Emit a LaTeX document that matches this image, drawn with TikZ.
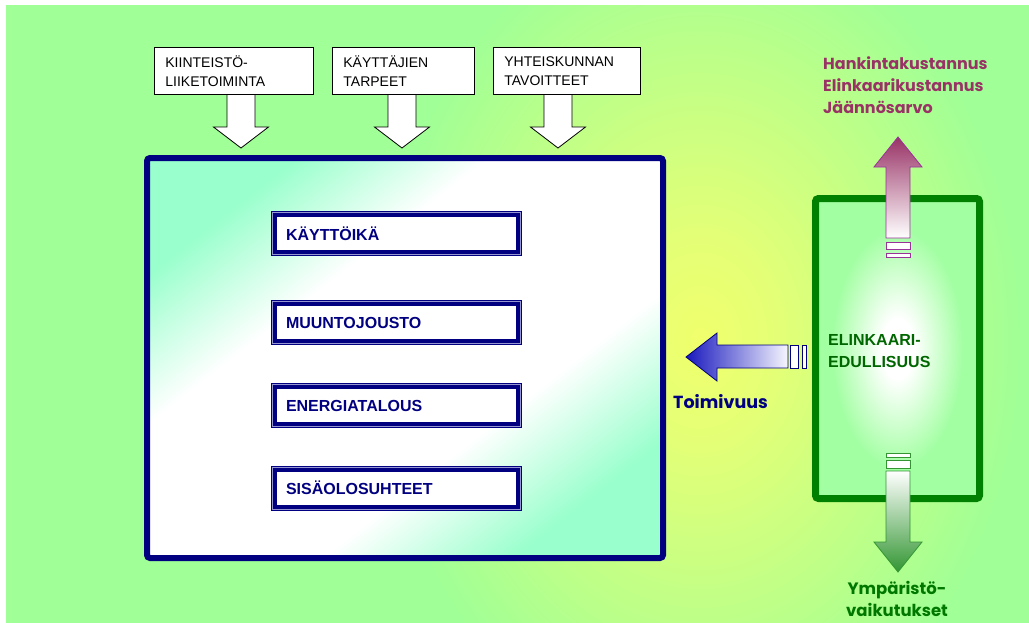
\documentclass[tikz,border=0pt]{standalone}
\usepackage{fontspec}
\setmainfont{Liberation Sans}
\newfontfamily\comic{Poppins}

% palette
\definecolor{bgG}{RGB}{160,255,150}
\definecolor{glowY}{RGB}{240,255,108}
\definecolor{glowY2}{RGB}{228,255,118}
\definecolor{mint}{RGB}{153,255,204}
\definecolor{navyB}{RGB}{0,0,128}
\definecolor{lav}{RGB}{150,150,210}
\definecolor{frameG}{RGB}{0,128,0}
\definecolor{boxG}{RGB}{162,255,162}
\definecolor{elinG}{RGB}{0,102,0}
\definecolor{mauve}{RGB}{153,51,102}
\definecolor{mauveLine}{RGB}{153,51,153}
\definecolor{arrowG}{RGB}{51,150,51}
\definecolor{ympG}{RGB}{0,120,0}
\definecolor{blueTip}{RGB}{25,25,190}
\definecolor{blueWhite}{RGB}{246,246,255}

% shadings
\pgfdeclareradialshading{bgglow}{\pgfpoint{0bp}{0bp}}{color(0bp)=(glowY); color(6bp)=(glowY2); color(25bp)=(bgG); color(50bp)=(bgG)}
\pgfdeclareradialshading{boxglow}{\pgfpoint{0bp}{0bp}}{color(0bp)=(white); color(5bp)=(white); color(20bp)=(boxG); color(50bp)=(boxG)}
\pgfdeclareverticalshading{diagmint}{100bp}{color(0bp)=(mint); color(33bp)=(mint); color(42bp)=(white); color(58bp)=(white); color(67bp)=(mint); color(100bp)=(mint)}

\tikzset{
  topbox/.style={draw=black, line width=0.8pt, fill=white, anchor=north west,
    minimum height=47pt, inner xsep=11pt, inner ysep=0pt, align=left,
    font=\fontsize{14}{19}\selectfont},
  itembox/.style={draw=navyB, line width=6pt, fill=white, minimum width=245pt,
    minimum height=39pt, inner xsep=12pt, inner ysep=0pt, text width=221pt,
    align=left, text=navyB, font=\bfseries\fontsize{16}{19}\selectfont},
  itemline/.style={draw=lav, line width=0.8pt},
  downarrow/.style={draw=black, line width=0.8pt, fill=white},
  comictext/.style={font=\comic\bfseries\fontsize{16}{22}\selectfont, inner sep=0pt},
}

% hollow block arrow pointing down: centre x, top y
\newcommand\blockdown[2]{%
  \filldraw[downarrow] ({#1-14},#2) -- ({#1-14},127) -- ({#1-27.5},127)
    -- (#1,148) -- ({#1+27.5},127) -- ({#1+14},127) -- ({#1+14},#2) -- cycle;}

\begin{document}
\begin{tikzpicture}[x=1pt,y=-1pt]
\useasboundingbox (0,0) rectangle (1029,622);
\fill[white] (0,0) rectangle (1029,622);
\fill[bgG] (6,5) rectangle (1029,623);
\begin{scope}
  \clip (6,5) rectangle (1029,623);
  \shade[shading=bgglow] (380,-80) rectangle (1020,760);
\end{scope}

% inputs at the top
\blockdown{241}{90}
\blockdown{402}{90}
\blockdown{558}{90}
\node[topbox, minimum width=159pt, text width=137pt] (kl) at (154,47) {KIINTEISTÖ-\\LIIKETOIMINTA};
\node[topbox, minimum width=142pt, text width=120pt] (kt) at (332,47) {KÄYTTÄJIEN\\TARPEET};
\node[topbox, minimum width=147pt, text width=125pt] (yt) at (493,47) {YHTEISKUNNAN\\TAVOITTEET};

% main frame: diagonal mint-white-mint fill, then the border
\begin{scope}
  \clip[rounded corners=3pt] (147,158) rectangle (663,558);
  \shade[shading=diagmint, transform canvas={rotate around={38:(405,358)}}]
    (75,28) rectangle (735,688);
\end{scope}
\node[draw=navyB, line width=6pt, rounded corners=3pt,
  minimum width=516pt, minimum height=400pt, inner sep=0pt] (main) at (405,358) {};

\node[itembox] (k1) at (396.5,233.5) {KÄYTTÖIKÄ};
\node[itembox] (k2) at (396.5,322.5) {MUUNTOJOUSTO};
\node[itembox] (k3) at (396.5,405.5) {ENERGIATALOUS};
\node[itembox] (k4) at (396.5,488) {SISÄOLOSUHTEET};
\foreach \k in {k1,k2,k3,k4}
  \draw[itemline] ([xshift=1.6pt,yshift=-1.6pt]\k.north west) rectangle ([xshift=-1.6pt,yshift=1.6pt]\k.south east);

% life-cycle frame on the right
\node[draw=frameG, line width=7pt, rounded corners=3pt, shading=boxglow,
  minimum width=164pt, minimum height=300pt, inner sep=0pt] (lc) at (897.5,348.5) {};
\node[anchor=west, align=left, inner sep=0pt, text=elinG,
  font=\bfseries\fontsize{16}{22}\selectfont] (lctxt) at (828,351) {ELINKAARI-\\EDULLISUUS};

% performance arrow towards the main frame
\shadedraw[left color=blueTip, right color=blueWhite, draw=navyB, line width=0.8pt]
  (686,357) -- (717,333) -- (717,345) -- (788,345) -- (788,368) -- (717,368) -- (717,381) -- cycle;
\filldraw[fill=white, draw=navyB, line width=0.8pt] (790,345) rectangle (798,368);
\filldraw[fill=white, draw=navyB, line width=0.8pt] (802,345) rectangle (806,368);
\node[comictext, text=navyB, anchor=base west, font=\comic\bfseries\fontsize{17.5}{22}\selectfont] (toim) at (673,408) {Toimivuus};

% costs arrow upwards
\shadedraw[top color=mauve, bottom color=white, draw=mauveLine, line width=0.8pt]
  (898,137) -- (922,167) -- (910,167) -- (910,238) -- (886,238) -- (886,167) -- (874,167) -- cycle;
\filldraw[fill=white, draw=mauveLine, line width=0.8pt] (886,242) rectangle (910,249);
\filldraw[fill=white, draw=mauveLine, line width=0.8pt] (886,253) rectangle (910,257);
\node[comictext, text=mauve, anchor=west, align=left] (costs) at (823,85) {Hankintakustannus\\Elinkaarikustannus\\Jäännösarvo};

% environmental impacts arrow downwards
\filldraw[fill=white, draw=arrowG, line width=0.8pt] (886,453) rectangle (910,457);
\filldraw[fill=white, draw=arrowG, line width=0.8pt] (886,460) rectangle (910,468);
\shadedraw[top color=white, bottom color=arrowG, draw=arrowG, line width=0.8pt]
  (886,471) -- (910,471) -- (910,542) -- (922,542) -- (898,572) -- (874,542) -- (886,542) -- cycle;
\node[comictext, text=ympG, anchor=center, align=center, font=\comic\bfseries\fontsize{16.5}{22}\selectfont] (ymp) at (897,599) {Ympäristö-\\vaikutukset};
\end{tikzpicture}
\end{document}
